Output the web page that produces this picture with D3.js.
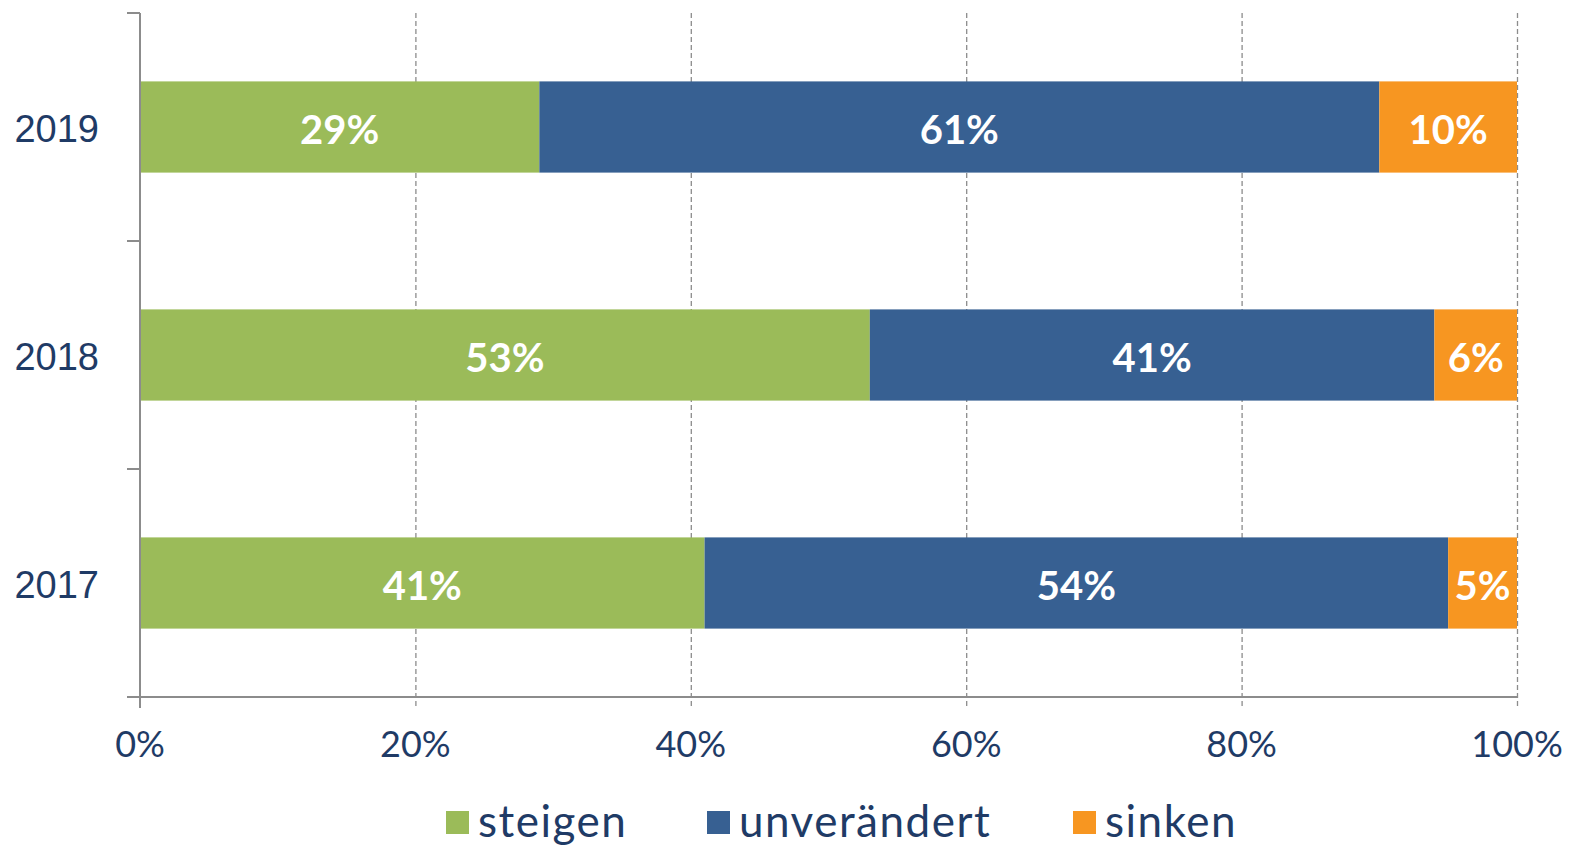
<!DOCTYPE html>
<html>
<head>
<meta charset="utf-8">
<script src="https://cdn.jsdelivr.net/npm/d3@7"></script>
<style>
body { margin:0; background:#fff; }
</style>
</head>
<body>
<div id="chart"></div>
<script>
"use strict"
var width = 1578,
	height = 845;

// data
var years = ["2019","2018","2017"];
var series = ["steigen","unverändert","sinken"];
var steigen = [29,53,41];
var unveraendert = [61,41,54];
var sinken = [10,6,5];
var xticks = [0,20,40,60,80,100];
var colors = ["#9BBB59","#376092","#F79621"];

var values = [steigen,unveraendert,sinken];
var textColor = "#1F3B66",
	axisColor = "#8c8c8c";

var svg = d3.select("#chart").append("svg")
	.attr("width",width)
	.attr("height",height);

var xscale = d3.scaleLinear().domain([0,100]).range([140,1517]);
var yscale = d3.scaleBand().domain(years).range([13,697])
	.paddingInner(0.6).paddingOuter(0.3);
var step = yscale.step();

// grid lines (dashed)
svg.append("g").selectAll("line")
	.data(xticks.slice(1))
	.enter().append("line")
	.attr("x1",d=>xscale(d)+0.5).attr("x2",d=>xscale(d)+0.5)
	.attr("y1",13).attr("y2",708)
	.style("stroke",axisColor)
	.style("stroke-width",1.3)
	.style("stroke-dasharray","5,3");

// stacked bars
var stacks = years.map(function(y,i){
	var x0 = 0;
	return values.map(function(v,s){
		var seg = {year:y,series:s,start:x0,value:v[i]};
		x0 += v[i];
		return seg;
	});
});
var segs = [].concat.apply([],stacks);

svg.append("g").selectAll("rect")
	.data(segs)
	.enter().append("rect")
	.attr("x",d=>xscale(d.start))
	.attr("y",d=>yscale(d.year))
	.attr("width",d=>xscale(d.start+d.value)-xscale(d.start))
	.attr("height",yscale.bandwidth())
	.style("fill",d=>colors[d.series]);

svg.append("g").selectAll("text")
	.data(segs)
	.enter().append("text")
	.attr("x",d=>xscale(d.start+d.value/2))
	.attr("y",d=>yscale(d.year)+yscale.bandwidth()/2+17)
	.attr("text-anchor","middle")
	.style("font-family","Lato, 'Open Sans', sans-serif")
	.style("font-weight","bold")
	.style("font-size","40px")
	.style("fill","#fff")
	.text(d=>d.value+"%");

// y axis
var yaxis = svg.append("g");
yaxis.append("line")
	.attr("x1",140).attr("x2",140).attr("y1",13).attr("y2",697)
	.style("stroke",axisColor).style("stroke-width",2);
yaxis.selectAll("line.tick")
	.data([0,1,2,3])
	.enter().append("line")
	.attr("class","tick")
	.attr("x1",127).attr("x2",140)
	.attr("y1",d=>13+d*step).attr("y2",d=>13+d*step)
	.style("stroke",axisColor).style("stroke-width",2);
yaxis.selectAll("text")
	.data(years)
	.enter().append("text")
	.attr("x",99)
	.attr("y",d=>yscale(d)+yscale.bandwidth()/2+15)
	.attr("text-anchor","end")
	.style("font-family","'Liberation Sans', Arial, sans-serif")
	.style("font-size","38px")
	.style("fill",textColor)
	.text(d=>d);

// x axis
var xaxis = svg.append("g");
xaxis.append("line")
	.attr("x1",127).attr("x2",1517).attr("y1",697).attr("y2",697)
	.style("stroke",axisColor).style("stroke-width",2);
xaxis.append("line")
	.attr("x1",xscale(0)).attr("x2",xscale(0))
	.attr("y1",697).attr("y2",708)
	.style("stroke",axisColor).style("stroke-width",2);
xaxis.selectAll("text")
	.data(xticks)
	.enter().append("text")
	.attr("x",d=>xscale(d))
	.attr("y",757)
	.attr("text-anchor","middle")
	.style("font-family","Lato, 'Open Sans', sans-serif")
	.style("font-size","36px")
	.style("fill",textColor)
	.text(d=>d+"%");

// legend
var legendX = [446,707,1073];
var legend = svg.append("g").selectAll("g")
	.data(series)
	.enter().append("g")
	.attr("transform",(d,i)=>"translate("+legendX[i]+",811)");
legend.append("rect")
	.attr("width",23).attr("height",23)
	.style("fill",(d,i)=>colors[i]);
legend.append("text")
	.attr("x",32)
	.attr("y",26)
	.style("font-family","Lato, 'Open Sans', sans-serif")
	.style("font-size","44px")
	.style("letter-spacing","1.5px")
	.style("fill",textColor)
	.text(d=>d);
</script>
</body>
</html>
